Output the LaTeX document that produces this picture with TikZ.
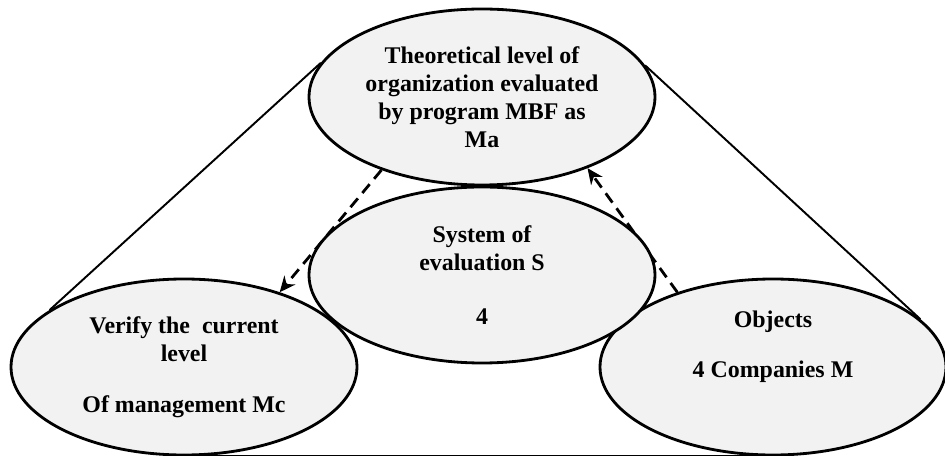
\documentclass[tikz,border=0pt]{standalone}
\usepackage{fontspec}
\setmainfont{Liberation Serif}[BoldFont={Liberation Serif Bold}]
\usetikzlibrary{arrows.meta,shapes.geometric}
\definecolor{ovalgray}{HTML}{F2F2F2}
\begin{document}
\begin{tikzpicture}[
    oval/.style={draw, ellipse, line width=1.6pt, fill=ovalgray, minimum width=6.92cm, minimum height=3.52cm, inner sep=0pt, align=center, font=\fontsize{13.6}{16}\selectfont\bfseries},
    side/.style={line width=1.1pt},
    flow/.style={line width=1.6pt, dash pattern=on 6.5pt off 4pt, -{Stealth[length=9pt,width=8pt]}}
]
    \useasboundingbox (0,0) rectangle (18.9,9.12);
    \node[oval] (theory) at (9.64, 7.18) {Theoretical level of\\organization evaluated\\by program MBF as\\Ma};
    \node[oval] (verify) at (3.68, 1.78) {Verify the\ \ current\\level\\[13pt]Of management Mc};
    \node[oval] (objects) at (15.46, 1.78) {Objects\\[12pt]4 Companies M\\[10pt]\mbox{}};

    \draw[side] (theory.168) -- (verify.157);
    \draw[side] (theory.11) -- (objects.18);
    \draw[side] (verify.south) -- (objects.south);

    \draw[flow] (theory.216) -- (verify.38);
    \draw[flow] (objects.142) -- (theory.326);

    \node[oval] (system) at (9.64, 3.62) {System of\\evaluation S\\[15pt]4};
\end{tikzpicture}
\end{document}
